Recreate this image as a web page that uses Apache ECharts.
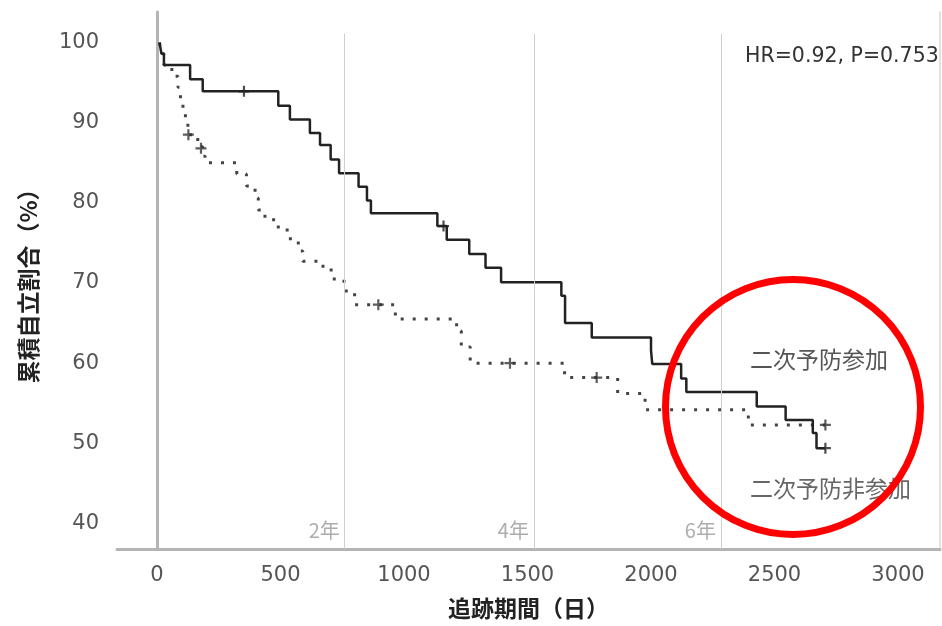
<!DOCTYPE html>
<html>
<head>
<meta charset="utf-8">
<script src="https://cdn.jsdelivr.net/npm/echarts@6/dist/echarts.min.js"></script>
<style>
html, body { margin: 0; padding: 0; background: #fff; }
#chart { width: 942px; height: 626px; }
</style>
</head>
<body>
<div id="chart"></div>
<script>
const xTicks = [0, 500, 1000, 1500, 2000, 2500, 3000]
const yTicks = [40, 50, 60, 70, 80, 90, 100]
const yearLines = [760, 1526, 2283]
const yearNames = ['2年', '4年', '6年']

// 二次予防参加 (solid): [day, % after the event]
const joinedSteps = [
    [10, 100], [18, 98.6], [28, 97.2], [134, 95.4], [185, 93.9], [491, 92.1],
    [538, 90.4], [619, 88.7], [660, 87.2], [703, 85.4], [737, 83.7], [816, 82.0],
    [850, 80.3], [866, 78.7], [1135, 77.1], [1173, 75.4], [1264, 73.6], [1330, 71.9],
    [1393, 70.1], [1637, 68.4], [1652, 65.0], [1760, 63.2], [2000, 61.6], [2005, 59.9],
    [2122, 58.1], [2143, 56.4], [2428, 54.6], [2545, 52.9], [2655, 51.3], [2670, 49.4],
    [2706, 49.4]
]
const joinedCensor = [[352, 93.9], [1160, 77.1], [2706, 49.4]]

// 二次予防非参加 (dotted)
const notJoinedSteps = [
    [10, 100], [18, 98.6], [28, 97.2], [60, 95.8], [85, 94.4], [95, 93.0],
    [105, 91.6], [115, 90.2], [125, 88.5], [165, 87.0], [185, 85.8], [195, 85.0],
    [323, 83.6], [362, 82.1], [397, 80.6], [410, 79.1], [437, 77.9], [491, 76.6],
    [540, 75.3], [572, 74.0], [590, 72.7], [672, 71.8], [705, 70.5], [757, 69.0],
    [800, 67.3], [965, 65.5], [1213, 64.0], [1232, 62.0], [1268, 60.0], [1650, 58.2],
    [1865, 56.2], [1976, 54.2], [2394, 52.3], [2706, 52.3]
]
const notJoinedCensor = [[127, 88.5], [178, 86.8], [896, 67.3], [1429, 60.0], [1780, 58.2], [2706, 52.3]]

const X_MIN = -162, X_MAX = 3170
const Y_MIN = 36.82, Y_MAX = 103.8

const plus = 'path://M4,0H6V4H10V6H6V10H4V6H0V4H4Z'
const jpFont = '"Noto Sans CJK JP", sans-serif'

const chart = echarts.init(document.getElementById('chart'))

chart.setOption({
    animation: false,
    backgroundColor: '#fff',
    grid: { left: 117, right: 2, top: 12, bottom: 77 },
    xAxis: {
        type: 'value',
        min: X_MIN,
        max: X_MAX,
        splitLine: { show: false },
        axisTick: { show: false },
        axisLine: { show: true, lineStyle: { color: '#b4b4b4', width: 3 } },
        axisLabel: {
            customValues: xTicks,
            formatter: (v) => String(v),
            color: '#555',
            fontSize: 21,
            fontFamily: 'DejaVu Sans',
            margin: 16,
        },
        name: '追跡期間（日）',
        nameLocation: 'middle',
        nameGap: 48,
        nameTextStyle: { fontSize: 23, fontWeight: 'bold', color: '#222', fontFamily: jpFont },
    },
    yAxis: [
        {
            type: 'value',
            min: Y_MIN,
            max: Y_MAX,
            splitLine: { show: false },
            axisTick: { show: false },
            axisLine: { show: true, lineStyle: { color: '#b4b4b4', width: 3 } },
            axisLabel: {
                customValues: yTicks,
                formatter: (v) => String(v),
                color: '#555',
                fontSize: 21,
                fontFamily: 'DejaVu Sans',
                margin: 18,
            },
            name: '累積自立割合（%）',
            nameLocation: 'middle',
            nameRotate: 90,
            nameGap: 77,
            nameTextStyle: { fontSize: 23, fontWeight: 'bold', color: '#222', fontFamily: jpFont },
        },
        {
            type: 'value',
            position: 'right',
            min: Y_MIN,
            max: Y_MAX,
            splitLine: { show: false },
            axisTick: { show: false },
            axisLabel: { show: false },
            axisLine: { show: true, lineStyle: { color: '#e2e2e2', width: 2 } },
        },
    ],
    series: [
        {
            name: 'years',
            type: 'scatter',
            symbolSize: 0,
            silent: true,
            data: yearLines.map((d, i) => [d, 39.1, yearNames[i]]),
            label: {
                show: true,
                position: 'left',
                distance: 5,
                formatter: (p) => p.value[2],
                color: '#999',
                fontSize: 20,
                fontFamily: jpFont,
            },
            markLine: {
                silent: true,
                symbol: 'none',
                label: { show: false },
                lineStyle: { color: '#cfcfcf', width: 1, type: 'solid' },
                data: yearLines.map((d) => [{ coord: [d, Y_MIN] }, { coord: [d, 101.1] }]),
            },
        },
        {
            name: '二次予防非参加',
            type: 'line',
            step: 'end',
            showSymbol: false,
            data: notJoinedSteps,
            lineStyle: { color: '#444', width: 3, type: [3, 9] },
            z: 3,
        },
        {
            name: '二次予防参加',
            type: 'line',
            step: 'end',
            showSymbol: false,
            data: joinedSteps,
            lineStyle: { color: '#222', width: 2.5 },
            z: 4,
        },
        {
            type: 'scatter',
            symbol: plus,
            symbolSize: 11,
            data: notJoinedCensor,
            itemStyle: { color: '#333' },
            z: 5,
        },
        {
            type: 'scatter',
            symbol: plus,
            symbolSize: 11,
            data: joinedCensor,
            itemStyle: { color: '#222' },
            z: 5,
        },
    ],
    graphic: [
        {
            type: 'text',
            left: 745,
            top: 46,
            style: { text: 'HR=0.92, P=0.753', fill: '#333', font: '20.5px "DejaVu Sans"' },
        },
        {
            type: 'text',
            left: 750,
            top: 348,
            style: { text: '二次予防参加', fill: '#555', font: '23px "Noto Sans CJK JP"' },
        },
        {
            type: 'text',
            left: 750,
            top: 477,
            style: { text: '二次予防非参加', fill: '#666', font: '23px "Noto Sans CJK JP"' },
        },
        {
            type: 'circle',
            shape: { cx: 793, cy: 407, r: 127.5 },
            style: { fill: 'none', stroke: '#ff0000', lineWidth: 7 },
            z: 100,
        },
    ],
})
</script>
</body>
</html>
